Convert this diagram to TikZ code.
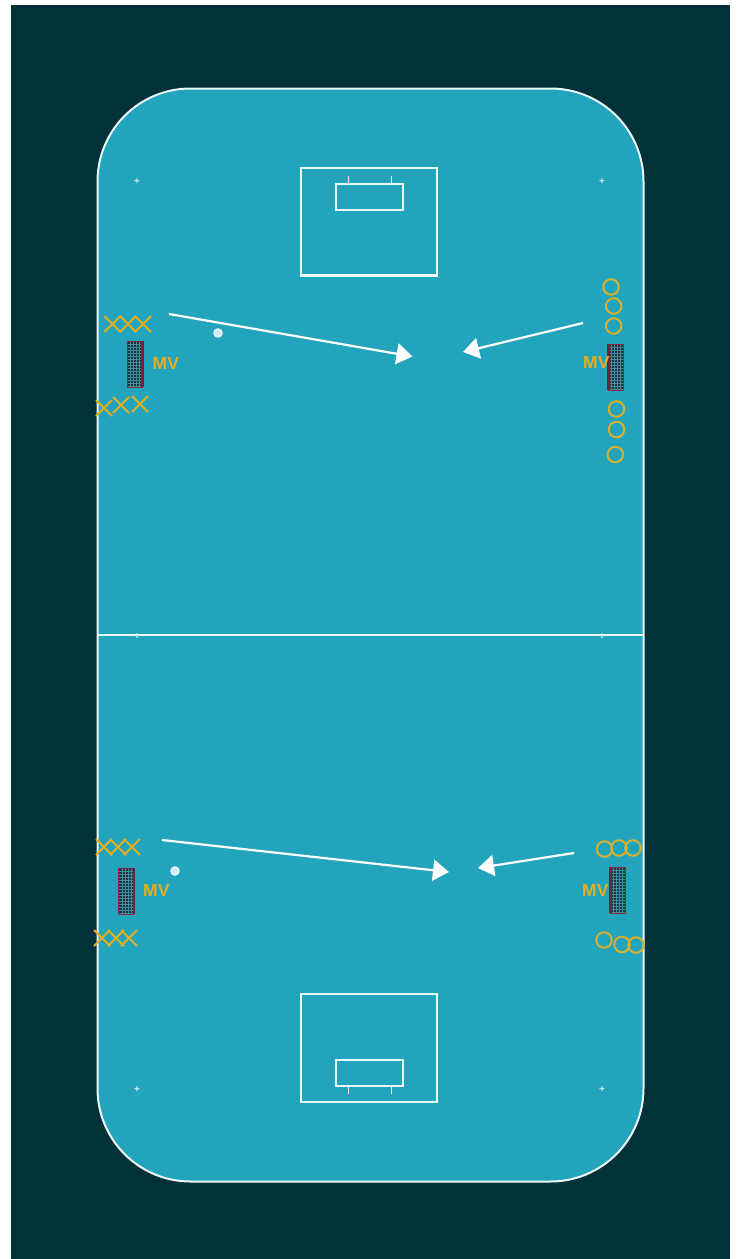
\documentclass[tikz,border=0pt]{standalone}
\usepackage{fontspec}
\setmainfont{Liberation Sans}
\usetikzlibrary{arrows.meta,shapes.misc}
\definecolor{pagedark}{HTML}{01323A}
\definecolor{court}{HTML}{22A4BD}
\definecolor{mvgold}{HTML}{E6AE1E}
\definecolor{ringgold}{HTML}{D9B02E}
\definecolor{netdark}{HTML}{1B3444}
\definecolor{netline}{HTML}{3F8F9C}
\definecolor{netred}{HTML}{8E2440}
\tikzset{
  x=1pt,y=-1pt,
  courtline/.style={draw=white!92!court,line width=2pt},
  thinline/.style={draw=white!92!court,line width=1.7pt},
  boxline/.style={draw=white!92!court,line width=2.2pt,inner sep=0pt,outer sep=0pt,anchor=north west},
  crossmark/.style={cross out,draw=mvgold,line width=2pt,minimum width=16pt,minimum height=16pt,inner sep=0pt,outer sep=0pt},
  ringmark/.style={circle,draw=ringgold,line width=2pt,minimum size=15.5pt,inner sep=0pt,outer sep=0pt},
  mvlabel/.style={text=mvgold,font=\fontsize{17.5}{17.5}\selectfont\bfseries,inner sep=0pt},
  spotmark/.style={font=\fontsize{10}{10}\selectfont\bfseries,text=white!80!court,inner sep=0pt},
  ballmark/.style={circle,fill=white!80!court,draw=white!92!court,line width=1pt,minimum size=8.5pt,inner sep=0pt},
  playarrow/.style={draw=white,line width=2.2pt,-{Triangle[length=16pt,width=21pt,fill=white]}},
}
% \netgoal{name}{left x}{top y}{side of the thick red post: 0 left, 1 right}
\newcommand{\netgoal}[4]{%
  \node[minimum width=15pt,minimum height=46pt,inner sep=0pt,outer sep=0pt,fill=netdark,anchor=north west] (#1) at (#2,#3) {};
  \foreach \gi in {3,6,...,45} {\draw[netline,line width=.7pt] (#2,#3+\gi) -- (#2+15,#3+\gi);}
  \foreach \gj in {3,6,...,12} {\draw[netline,line width=.4pt] (#2+\gj,#3) -- (#2+\gj,#3+46);}
  \draw[netred,line width=1pt] (#1.north west) rectangle (#1.south east);
  \ifnum#4=0 \draw[netred!85!black,line width=2.4pt] (#1.north west) -- (#1.south west);
  \else \draw[netred!85!black,line width=2.4pt] (#1.north east) -- (#1.south east);\fi
}
\begin{document}
\begin{tikzpicture}
\useasboundingbox (0,0) rectangle (739,1259);
\fill[white] (0,0) rectangle (739,1259);
\fill[pagedark] (11,5) rectangle (730,1259);
% court
\path[fill=court,courtline,rounded corners=93pt] (97.5,88.5) rectangle (643.5,1181.5);
\coordinate (midL) at (97.5,635);
\coordinate (midR) at (643.5,635);
\draw[courtline] (midL) -- (midR);
% penalty areas
\node[boxline,minimum width=136pt,minimum height=107.5pt] (boxT) at (301.3,168) {};
\node[boxline,minimum width=67pt,minimum height=26pt] (innerT) at (336,184) {};
\draw[thinline] (348.5,176) -- (348.5,184) (391.5,176) -- (391.5,184);
\node[boxline,minimum width=136pt,minimum height=108pt] (boxB) at (301.3,994) {};
\node[boxline,minimum width=67pt,minimum height=26pt] (innerB) at (336,1060) {};
\draw[thinline] (348.5,1086) -- (348.5,1094) (391.5,1086) -- (391.5,1094);
% spots
\foreach \sx/\sy [count=\si] in {137/182,602/182,137/636.5,602/636.5,137/1090,602/1090}
  \node[spotmark] (spot\si) at (\sx,\sy) {+};
% goals
\netgoal{goalA}{127.3}{341}{1}
\netgoal{goalB}{608.3}{344}{0}
\netgoal{goalC}{118.7}{868}{1}
\netgoal{goalD}{610.5}{867}{0}
% labels
\node[mvlabel] (mvA) at (165.8,363.5) {MV};
\node[mvlabel] (mvB) at (596.3,362.5) {MV};
\node[mvlabel] (mvC) at (156.3,890.5) {MV};
\node[mvlabel] (mvD) at (595.3,890.5) {MV};
% crosses
\foreach \cx/\cy [count=\ci] in {112.5/324,128/324,143/324,104/408,121/405,140/404,104/847,118/847,132/847,102/938,116/938,129/938}
  \node[crossmark] (cross\ci) at (\cx,\cy) {};
% rings
\foreach \rx/\ry [count=\ri] in {611/287,613.7/306,613.7/326,616.5/409,616.5/429.5,615.3/454.5,604.5/849,619/848,633/848,604/940,622/944.5,636/945}
  \node[ringmark] (ring\ri) at (\rx,\ry) {};
% balls
\node[ballmark] (ballA) at (218,333) {};
\node[ballmark] (ballB) at (175,871) {};
% arrows
\coordinate (a1s) at (169,314); \coordinate (a1e) at (412.5,356.5);
\coordinate (a2s) at (583,323); \coordinate (a2e) at (463,352);
\coordinate (a3s) at (162,840); \coordinate (a3e) at (449,872);
\coordinate (a4s) at (574,853); \coordinate (a4e) at (478,868);
\draw[playarrow] (a1s) -- (a1e);
\draw[playarrow] (a2s) -- (a2e);
\draw[playarrow] (a3s) -- (a3e);
\draw[playarrow] (a4s) -- (a4e);
\end{tikzpicture}
\end{document}
